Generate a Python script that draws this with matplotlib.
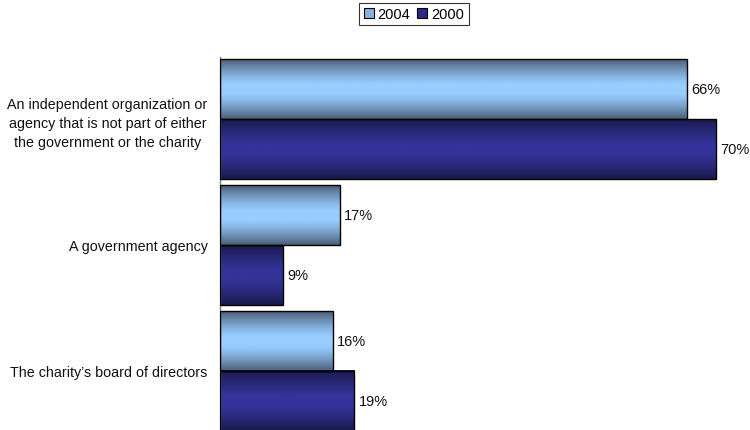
import numpy as np
import matplotlib.pyplot as plt
from matplotlib.patches import Patch
from matplotlib.colors import to_rgb

plt.rcParams['font.family'] = ['Liberation Sans', 'DejaVu Sans']

categories = ["An independent organization or\nagency that is not part of either\nthe government or the charity",
              "A government agency",
              "The charity\u2019s board of directors"]
years = ["2004", "2000"]
vals_2004 = [66, 17, 16]
vals_2000 = [70, 9, 19]

# edge (dark) and centre (light) colours of each bar's shading
shade = {"2004": ("#4a5f78", "#99ccff"), "2000": ("#1a1a4c", "#333399")}
legend_col = {"2004": "#86b2e0", "2000": "#2b2b85"}

H = 0.476  # bar thickness
FS = 10.3


def gradient(dark, light, n=64):
    t = np.abs(np.linspace(-1, 1, n))
    w = np.clip((t - 0.15) / 0.85, 0, 1) ** 1.3
    d = np.array(to_rgb(dark))
    l = np.array(to_rgb(light))
    img = l[None, :] * (1 - w[:, None]) + d[None, :] * w[:, None]
    return img[:, None, :]


fig = plt.figure(figsize=(7.5, 4.31), dpi=100)
ax = fig.add_axes([219.5 / 750, 0, 1 - 219.5 / 750, 1 - 58 / 431])

y = np.arange(len(categories))
for vals, yr, off in [(vals_2004, "2004", -H / 2), (vals_2000, "2000", H / 2)]:
    img = gradient(*shade[yr])
    bars = ax.barh(y + off, vals, height=H, facecolor='none',
                   edgecolor='black', linewidth=1.0, zorder=3)
    for b, v in zip(bars, vals):
        x0, y0 = b.get_x(), b.get_y()
        ax.imshow(img, extent=(x0, x0 + b.get_width(), y0 + b.get_height(), y0),
                  aspect='auto', interpolation='bilinear', zorder=2)
        ax.text(v + 0.6, y0 + b.get_height() / 2, f"{v}%", va='center',
                ha='left', fontsize=10.5, color='#111111')

ax.set_xlim(0, (750 - 219.5) / 7.086)
ax.set_ylim(2 + (431 - 372) / 126, -0.492)
ax.set_yticks(y)
ax.set_yticklabels(categories, fontsize=FS, ha='right', multialignment='center',
                   color='#111111', linespacing=1.45)
ax.tick_params(axis='y', length=0, pad=8.5)
ax.set_xticks([])
for s in ['top', 'right', 'bottom']:
    ax.spines[s].set_visible(False)
ax.spines['left'].set_color('#808080')
ax.spines['left'].set_linewidth(1.0)

handles = [Patch(facecolor=legend_col[yr], edgecolor='black', linewidth=0.8, label=yr)
           for yr in years]
leg = fig.legend(handles=handles, loc='center', bbox_to_anchor=(414 / 750, 1 - 15 / 431),
                 ncol=2, fontsize=10.5, frameon=True, fancybox=False,
                 handlelength=0.68, handleheight=0.68, handletextpad=0.27,
                 columnspacing=0.48, borderpad=0.3, borderaxespad=0)
leg.get_frame().set_edgecolor('black')
leg.get_frame().set_linewidth(0.8)

fig.savefig('out.png', dpi=100)
